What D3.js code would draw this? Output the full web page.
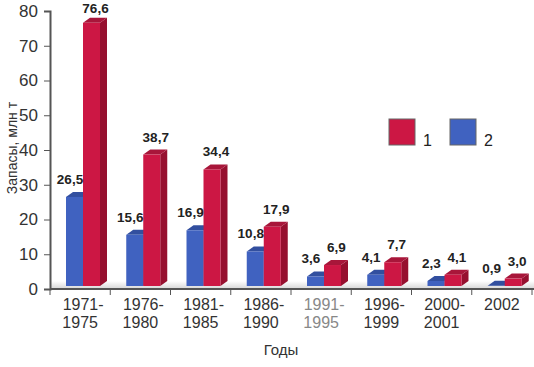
<!DOCTYPE html>
<html>
<head>
<meta charset="utf-8">
<script src="https://cdn.jsdelivr.net/npm/d3@7"></script>
<style>
  body { margin: 0; background: #fff; }
  svg text { font-family: "Liberation Sans", Arial, sans-serif; }
</style>
</head>
<body>
<svg id="chart" width="534" height="367"></svg>
<script>
const periods = [["1971-", "1975"], ["1976-", "1980"], ["1981-", "1985"], ["1986-", "1990"],
                 ["1991-", "1995"], ["1996-", "1999"], ["2000-", "2001"], ["2002"]]
const series1 = [76.6, 38.7, 34.4, 17.9, 6.9, 7.7, 4.1, 3.0]   // red
const series2 = [26.5, 15.6, 16.9, 10.8, 3.6, 4.1, 2.3, 0.9]   // blue
const yTicks = [0, 10, 20, 30, 40, 50, 60, 70, 80]

const colors = {
    red: { front: "#cc1744", side: "#96102f", top: "#a8163a" },
    blue: { front: "#4062c0", side: "#2b438f", top: "#324f9f" }
}

const svg = d3.select("#chart")
const mLeft = 50, mRight = 532, mTop = 11, mBottom = 289
const depthX = 7, depthY = 5

const x = d3.scaleBand().domain(d3.range(periods.length)).range([mLeft, mRight])
const y = d3.scaleLinear().domain([0, 80]).range([mBottom, mTop])

// floor shadow
const grad = svg.append("defs").append("linearGradient")
    .attr("id", "floor").attr("x1", 0).attr("x2", 0).attr("y1", 0).attr("y2", 1)
grad.append("stop").attr("offset", "0%").attr("stop-color", "#fff")
grad.append("stop").attr("offset", "100%").attr("stop-color", "#d6d6d6")
svg.append("rect").attr("x", mLeft).attr("y", mBottom - 8)
    .attr("width", 534 - mLeft).attr("height", 8).attr("fill", "url(#floor)")

function bar3d(g, x0, w, v, c) {
    const yt = y(v), yb = mBottom - 3
    g.append("path")
        .attr("d", `M${x0 + w},${yt} L${x0 + w + depthX},${yt - depthY} L${x0 + w + depthX},${yb - depthY} L${x0 + w},${yb} Z`)
        .attr("fill", c.side)
    g.append("path")
        .attr("d", `M${x0},${yt} L${x0 + depthX},${yt - depthY} L${x0 + w + depthX},${yt - depthY} L${x0 + w},${yt} Z`)
        .attr("fill", c.top)
    g.append("rect").attr("x", x0).attr("y", yt).attr("width", w).attr("height", yb - yt)
        .attr("fill", c.front)
}

const fmt = v => v.toFixed(1).replace(".", ",")
const barW = 17
const labelY = v => Math.max(13, y(v) - depthY - 8)

periods.forEach((p, i) => {
    const g = svg.append("g")
    const bx = x(i) + 16
    // blue drawn first, red in front of its side
    bar3d(g, bx, barW, series2[i], colors.blue)
    bar3d(g, bx + barW, barW, series1[i], colors.red)

    g.append("text").attr("x", bx + 4).attr("y", labelY(series2[i]))
        .attr("text-anchor", "middle").attr("font-size", 13.5).attr("font-weight", "bold")
        .attr("fill", "#222").text(fmt(series2[i]))
    g.append("text").attr("x", bx + barW * 1.5 + 4).attr("y", labelY(series1[i]))
        .attr("text-anchor", "middle").attr("font-size", 13.5).attr("font-weight", "bold")
        .attr("fill", "#222").text(fmt(series1[i]))
})

// y axis
const yAxis = svg.append("g").attr("transform", `translate(${mLeft},0)`)
    .call(d3.axisLeft(y).tickValues(yTicks).tickSize(6).tickPadding(6))
yAxis.select(".domain").attr("stroke", "#555").attr("stroke-width", 2)
yAxis.selectAll(".tick line").attr("stroke", "#555")
yAxis.selectAll(".tick text").attr("font-size", 17).attr("fill", "#333")
    .attr("font-family", "Liberation Sans, Arial, sans-serif")

// x axis
svg.append("line").attr("x1", mLeft).attr("x2", 534).attr("y1", mBottom).attr("y2", mBottom)
    .attr("stroke", "#555").attr("stroke-width", 2)
svg.selectAll(".xtick").data(d3.range(periods.length + 1)).enter().append("line")
    .attr("x1", d => mLeft + d * x.bandwidth()).attr("x2", d => mLeft + d * x.bandwidth())
    .attr("y1", mBottom).attr("y2", mBottom + 6).attr("stroke", "#555")

periods.forEach((p, i) => {
    const t = svg.append("text").attr("text-anchor", "middle").attr("font-size", 16)
        .attr("fill", i === 4 ? "#888" : "#333")
    p.forEach((line, j) => {
        t.append("tspan").attr("x", x(i) + x.bandwidth() / 2 + (line.endsWith("-") ? 3 : 0))
            .attr("y", 310 + j * 18).text(line)
    })
})

// axis titles
svg.append("text").attr("transform", "translate(17,148) rotate(-90)")
    .attr("text-anchor", "middle").attr("font-size", 14).attr("fill", "#333")
    .text("Запасы, млн т")
svg.append("text").attr("x", 281).attr("y", 355).attr("text-anchor", "middle")
    .attr("font-size", 15).attr("fill", "#333").text("Годы")

// legend
const legend = [{ label: "1", c: colors.red.front, x: 389 }, { label: "2", c: colors.blue.front, x: 450 }]
legend.forEach(l => {
    svg.append("rect").attr("x", l.x).attr("y", 119).attr("width", 26).attr("height", 26)
        .attr("fill", l.c).attr("stroke", "#666").attr("stroke-width", 1)
    svg.append("text").attr("x", l.x + 34).attr("y", 146).attr("font-size", 16)
        .attr("fill", "#222").text(l.label)
})
</script>
</body>
</html>
